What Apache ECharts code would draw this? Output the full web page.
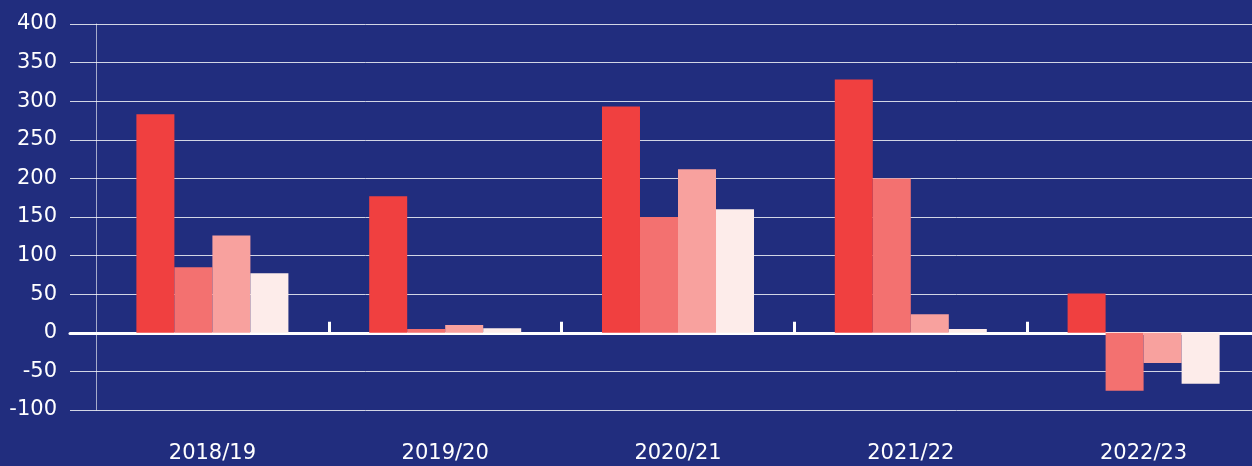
<!DOCTYPE html>
<html>
<head>
<meta charset="utf-8">
<script src="https://cdn.jsdelivr.net/npm/echarts@6/dist/echarts.min.js"></script>
<style>
  html, body { margin: 0; padding: 0; background: #212d7e; }
  #chart { width: 1252px; height: 466px; }
</style>
</head>
<body>
<div id="chart"></div>
<script>
const years = ["2018/19", "2019/20", "2020/21", "2021/22", "2022/23"];
const seriesA = [283, 177, 293, 328, 51];
const seriesB = [85, 5, 150, 200, -75];
const seriesC = [126, 10, 212, 24, -39];
const seriesD = [77, 6, 160, 5, -66];
const colors = ["#f04040", "#f37170", "#f8a19e", "#fdecea"];

const font = "'DejaVu Sans', sans-serif";

const chart = echarts.init(document.getElementById("chart"));

const makeBar = (data, i) => ({
  type: "bar",
  xAxisIndex: 0,
  yAxisIndex: 0,
  data: data,
  barGap: "0%",
  barCategoryGap: "34.7%",
  itemStyle: { color: colors[i] },
  z: 3,
});

chart.setOption({
  backgroundColor: "#212d7e",
  animation: false,
  grid: [
    // the bar grid runs a little past the right edge of the picture
    { left: 96, width: 1164, top: 24, bottom: 56, outerBoundsMode: "none" },
    { left: 70, right: 0, top: 24, bottom: 56, outerBoundsMode: "none" },
  ],
  xAxis: [
    {
      // ticks at zero between the groups
      type: "category",
      gridIndex: 0,
      data: years,
      axisLine: { show: false, onZero: true },
      axisTick: {
        show: true,
        inside: true,
        length: 11,
        interval: function (i) { return i > 0; },
        lineStyle: { color: "#ffffff", width: 3 },
      },
      axisLabel: { show: false },
      z: 4,
    },
    {
      // year labels at the bottom
      type: "category",
      gridIndex: 0,
      position: "bottom",
      data: years,
      axisLine: { show: false, onZero: false },
      axisTick: { show: false },
      axisLabel: {
        color: "#ffffff",
        fontSize: 21,
        fontFamily: font,
        margin: 33,
      },
    },
    {
      // zero line across the whole width
      type: "value",
      gridIndex: 1,
      min: 0,
      max: 1,
      axisLine: { show: true, onZero: true, lineStyle: { color: "#ffffff", width: 3 } },
      axisTick: { show: false },
      axisLabel: { show: false },
      splitLine: { show: false },
      z: 2,
    },
  ],
  yAxis: [
    {
      type: "value",
      gridIndex: 0,
      min: -100,
      max: 400,
      interval: 50,
      axisLine: { show: true, lineStyle: { color: "rgba(255,255,255,0.6)", width: 1 } },
      axisTick: { show: false },
      axisLabel: { show: false },
      splitLine: { show: false },
    },
    {
      type: "value",
      gridIndex: 1,
      min: -100,
      max: 400,
      interval: 50,
      axisLine: { show: false },
      axisTick: { show: false },
      axisLabel: {
        color: "#ffffff",
        fontSize: 21,
        fontFamily: font,
        margin: 13,
      },
      splitLine: { show: true, lineStyle: { color: "rgba(255,255,255,0.8)", width: 1 } },
    },
  ],
  series: [
    makeBar(seriesA, 0),
    makeBar(seriesB, 1),
    makeBar(seriesC, 2),
    makeBar(seriesD, 3),
  ],
});
</script>
</body>
</html>
